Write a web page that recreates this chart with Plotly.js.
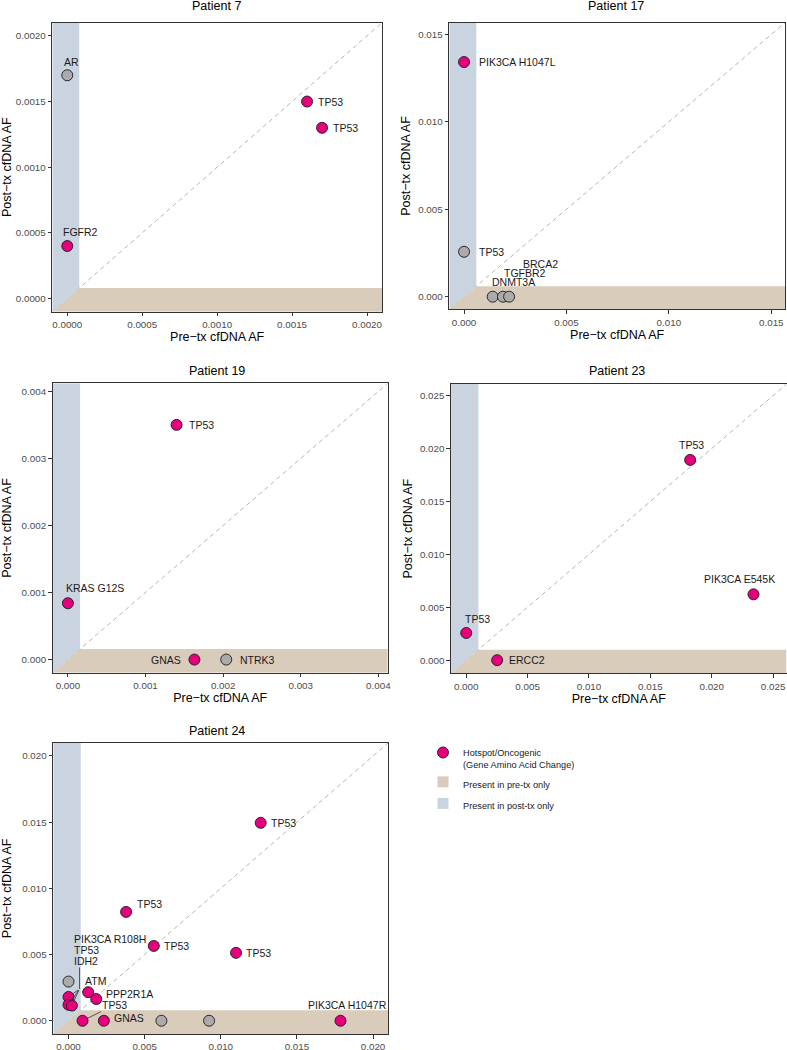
<!DOCTYPE html>
<html>
<head>
<meta charset="utf-8">
<script src="https://cdn.plot.ly/plotly-3.0.1.min.js"></script>
<style>html,body{margin:0;padding:0;background:#fff;}#chart{width:787px;height:1050px;}</style>
</head>
<body>
<div id="chart"></div>
<script>
// ---------------- DATA ----------------
const panelTitles = ['Patient 7', 'Patient 17', 'Patient 19', 'Patient 23', 'Patient 24'];

const p7_gene = ['AR', 'TP53', 'TP53', 'FGFR2'];
const p7_pre  = [0, 0.0016, 0.0017, 0];
const p7_post = [0.0017, 0.0015, 0.0013, 0.0004];
const p7_hot  = [0, 1, 1, 1];

const p17_gene = ['PIK3CA H1047L', 'TP53', 'DNMT3A', 'TGFBR2', 'BRCA2'];
const p17_pre  = [0, 0, 0.0014, 0.0019, 0.0022];
const p17_post = [0.01342, 0.00257, 0, 0, 0];
const p17_hot  = [1, 0, 0, 0, 0];

const p19_gene = ['TP53', 'KRAS G12S', 'GNAS', 'NTRK3'];
const p19_pre  = [0.0014, 0, 0.00163, 0.00204];
const p19_post = [0.0035, 0.00084, 0, 0];
const p19_hot  = [1, 1, 1, 0];

const p23_gene = ['TP53', 'PIK3CA E545K', 'TP53', 'ERCC2'];
const p23_pre  = [0.01824, 0.0234, 0, 0.00252];
const p23_post = [0.01892, 0.00622, 0.00257, 0];
const p23_hot  = [1, 1, 1, 1];

const p24_gene = ['TP53', 'TP53', 'TP53', 'TP53', 'PIK3CA H1047R', '', '', 'GNAS', 'TP53', 'PPP2R1A', 'ATM', '', 'PIK3CA R108H', 'TP53', 'IDH2'];
const p24_pre  = [0.01262, 0.00378, 0.0056, 0.011, 0.01786, 0.0061, 0.00923, 0.00232, 0.00092, 0.00182, 0.00129, 0, 0, 0, 0.00022];
const p24_post = [0.01495, 0.00822, 0.00565, 0.00513, 0, 0, 0, 0, 0, 0.00164, 0.00216, 0.00296, 0.0018, 0.00121, 0.00115];
const p24_hot  = [1, 1, 1, 1, 1, 0, 0, 1, 1, 1, 1, 0, 1, 1, 1];

// axis limits (same on x and y) and "present in one sample only" cut-off
const axisMin = [-0.0001, -0.00072, -0.000196, -0.00124, -0.001];
const axisMax = [0.0021, 0.01567, 0.00412, 0.02609, 0.021];
const onlyCutoff = [0.00008, 0.0006, 0.000157, 0.00099, 0.0008];

const tickVals7  = [0, 0.0005, 0.0010, 0.0015, 0.0020];
const tickText7  = ['0.0000', '0.0005', '0.0010', '0.0015', '0.0020'];
const tickVals17 = [0, 0.005, 0.010, 0.015];
const tickText17 = ['0.000', '0.005', '0.010', '0.015'];
const tickVals19 = [0, 0.001, 0.002, 0.003, 0.004];
const tickText19 = ['0.000', '0.001', '0.002', '0.003', '0.004'];
const tickVals23 = [0, 0.005, 0.010, 0.015, 0.020, 0.025];
const tickText23 = ['0.000', '0.005', '0.010', '0.015', '0.020', '0.025'];
const tickVals24 = [0, 0.005, 0.010, 0.015, 0.020];
const tickText24 = ['0.000', '0.005', '0.010', '0.015', '0.020'];

const legendNames = ['Hotspot/Oncogenic<br>(Gene Amino Acid Change)', 'Present in pre-tx only', 'Present in post-tx only'];
const xTitle = 'Pre\u2212tx cfDNA AF';
const yTitle = 'Post\u2212tx cfDNA AF';

// ---------------- STYLE / LAYOUT ----------------
const W = 787, H = 1050;
const PINK = '#E6007E', GREY = '#ABABAB', BLUE = '#CAD3E0', BROWN = '#D9CCBA';
const FONT = 'Liberation Sans, Arial, Helvetica, sans-serif';

// panel boxes in px: [left, right, top, bottom]
const boxes = [
  [52.3, 382, 22.7, 311.7],
  [449.3, 785, 22.7, 309.3],
  [52.7, 387.7, 383.3, 672.7],
  [451, 786.5, 384, 673.3],
  [53.3, 388.3, 742.7, 1034]
];
const titlePos = [[216, 6], [615.7, 6], [217, 370.5], [616.7, 370.5], [216.7, 731]];
// x-axis title shown only where it falls inside the page (last panel's is below the bottom edge)
const showXTitle = [true, true, true, true, false];
const yTitleStandoff = [2, 4, 7, 4, 7];

const panels = [
  {gene: p7_gene, pre: p7_pre, post: p7_post, hot: p7_hot, tv: tickVals7, tt: tickText7},
  {gene: p17_gene, pre: p17_pre, post: p17_post, hot: p17_hot, tv: tickVals17, tt: tickText17},
  {gene: p19_gene, pre: p19_pre, post: p19_post, hot: p19_hot, tv: tickVals19, tt: tickText19},
  {gene: p23_gene, pre: p23_pre, post: p23_post, hot: p23_hot, tv: tickVals23, tt: tickText23},
  {gene: p24_gene, pre: p24_pre, post: p24_post, hot: p24_hot, tv: tickVals24, tt: tickText24}
];

// label placement (pixel shifts, anchor) for each point, per panel
const labelPlace = [
  [[4, 13.7, 'center'], [9, 0, 'left'], [9, 0, 'left'], [13.3, 14.3, 'center']],
  [[12.7, 0, 'left'], [13, 0, 'left'], [21, 15, 'center'], [22.5, 23.7, 'center'], [31, 32.7, 'center']],
  [[10, 0, 'left'], [-4, 15, 'left'], [-11.6, 0, 'right'], [11.3, 0, 'left']],
  [[1, 15, 'center'], [-14.2, 15.3, 'center'], [11.7, 13.7, 'center'], [9.4, 0, 'left']],
  [[8, 0, 'left'], [9, 8, 'left'], [8.6, 0, 'left'], [8, 0, 'left'], [6.6, 16, 'center'], null, null,
   [8, 2.7, 'left'], 'leaderTP53', [7.7, 5, 'left'], [7.8, 11, 'center'], null, 'block', 'blockpart', 'blockpart']
];

const traces = [];
const shapes = [];
const annotations = [];
const layout = {
  width: W, height: H,
  margin: {l: 0, r: 0, t: 0, b: 0},
  paper_bgcolor: '#ffffff', plot_bgcolor: '#ffffff',
  font: {family: FONT, color: '#000000'},
  showlegend: true,
  legend: {
    x: 423 / W, y: 1 - 740 / H, xanchor: 'left', yanchor: 'top',
    font: {family: FONT, size: 9.2, color: '#1a1a1a'},
    bgcolor: 'rgba(0,0,0,0)', borderwidth: 0,
    traceorder: 'grouped', tracegroupgap: 2.5, valign: 'top', itemclick: false
  }
};

panels.forEach((p, i) => {
  const n = i + 1;
  const xa = 'xaxis' + (n === 1 ? '' : n), ya = 'yaxis' + (n === 1 ? '' : n);
  const xr = 'x' + (n === 1 ? '' : n), yr = 'y' + (n === 1 ? '' : n);
  const b = boxes[i];
  const lo = axisMin[i], hi = axisMax[i], c = onlyCutoff[i];
  const common = {
    range: [lo, hi], showgrid: false, zeroline: false,
    showline: true, mirror: true, linecolor: '#333333', linewidth: 1.1,
    ticks: 'outside', ticklen: 3.5, tickwidth: 1, tickcolor: '#333333',
    tickvals: p.tv, ticktext: p.tt,
    tickfont: {family: FONT, size: 9.8, color: '#4D4D4D'},
    fixedrange: true
  };
  layout[xa] = Object.assign({}, common, {
    domain: [b[0] / W, b[1] / W], anchor: yr,
    title: {text: showXTitle[i] ? xTitle : '', font: {family: FONT, size: 12.5, color: '#000'}, standoff: 2}
  });
  layout[ya] = Object.assign({}, common, {
    domain: [1 - b[3] / H, 1 - b[2] / H], anchor: xr,
    title: {text: yTitle, font: {family: FONT, size: 12.5, color: '#000'}, standoff: yTitleStandoff[i]}
  });

  // diagonal reference line
  shapes.push({type: 'line', xref: xr, yref: yr, x0: lo, y0: lo, x1: hi, y1: hi, layer: 'below',
    line: {color: '#B5B5B5', width: 1, dash: '4.5px,3.5px'}});
  // post-tx only region (upper-left strip)
  shapes.push({type: 'path', xref: xr, yref: yr, layer: 'below', fillcolor: BLUE, line: {width: 0},
    path: `M${lo},${lo} L${lo},${hi} L${c},${hi} L${c},${c} Z`});
  // pre-tx only region (bottom strip)
  shapes.push({type: 'path', xref: xr, yref: yr, layer: 'below', fillcolor: BROWN, line: {width: 0},
    path: `M${lo},${lo} L${c},${c} L${hi},${c} L${hi},${lo} Z`});

  // points: grey first, pink on top
  [0, 1].forEach(h => {
    const xs = [], ys = [];
    p.hot.forEach((v, k) => { if (v === h) { xs.push(p.pre[k]); ys.push(p.post[k]); } });
    traces.push({
      type: 'scatter', mode: 'markers', x: xs, y: ys, xaxis: xr, yaxis: yr,
      showlegend: false, hoverinfo: 'skip', cliponaxis: false,
      marker: {size: 11, color: h ? PINK : GREY, line: {color: '#1a1a1a', width: 0.9}}
    });
  });

  // panel title
  annotations.push({xref: 'paper', yref: 'paper', x: titlePos[i][0] / W, y: 1 - titlePos[i][1] / H,
    xanchor: 'center', yanchor: 'middle', showarrow: false, text: panelTitles[i],
    font: {family: FONT, size: 12.5, color: '#000'}});

  // gene labels
  const lf = {family: FONT, size: 10.5, color: '#1a1a1a'};
  p.gene.forEach((g, k) => {
    const pl = labelPlace[i][k];
    if (!g || !pl) return;
    if (pl === 'leaderTP53') {
      annotations.push({xref: xr, yref: yr, x: p.pre[k], y: p.post[k], text: g, font: lf,
        showarrow: true, arrowhead: 0, arrowwidth: 0.8, arrowcolor: '#333', standoff: 5,
        ax: 32.4, ay: -16});
      return;
    }
    if (pl === 'blockpart') {
      annotations.push({xref: xr, yref: yr, x: p.pre[k], y: p.post[k], text: '',
        showarrow: true, arrowhead: 0, arrowwidth: 0.8, arrowcolor: '#333', standoff: 4,
        ax: 79.3 - (68.3 + (p.pre[k]) * 15250), ay: 990 - (1022 - p.post[k] * 13267)});
      return;
    }
    if (pl === 'block') {
      const blockGenes = p.gene.filter((gg, kk) => labelPlace[i][kk] === 'block' || labelPlace[i][kk] === 'blockpart');
      const lineShift = [58.1, 47.1, 36.4];
      blockGenes.forEach((bg, bi) => {
        annotations.push({xref: xr, yref: yr, x: p.pre[k], y: p.post[k], text: bg, font: lf,
          xanchor: 'left', yanchor: 'middle', showarrow: false, xshift: 3.4, yshift: lineShift[bi]});
      });
      annotations.push({xref: xr, yref: yr, x: p.pre[k], y: p.post[k], text: '',
        showarrow: true, arrowhead: 0, arrowwidth: 0.8, arrowcolor: '#333', standoff: 4,
        ax: 79.3 - (68.3 + (p.pre[k]) * 15250), ay: 990 - (1022 - p.post[k] * 13267)});
      annotations.push({xref: xr, yref: yr, x: p.pre[k], y: p.post[k], text: '',
        showarrow: true, arrowhead: 0, arrowwidth: 0.8, arrowcolor: '#333', standoff: 0,
        xshift: 11, yshift: 8, ax: 0, ay: -23});
      return;
    }
    annotations.push({xref: xr, yref: yr, x: p.pre[k], y: p.post[k], text: g, font: lf,
      showarrow: false, xanchor: pl[2], yanchor: 'middle', xshift: pl[0], yshift: pl[1]});
  });
});

// legend-only entries
traces.push({type: 'scatter', mode: 'markers', x: [null], y: [null], name: legendNames[0], legendgroup: 'a',
  marker: {size: 11, color: PINK, line: {color: '#1a1a1a', width: 0.9}}, hoverinfo: 'skip'});
traces.push({type: 'scatter', mode: 'markers', x: [null], y: [null], name: legendNames[1], legendgroup: 'b',
  marker: {size: 11, symbol: 'square', color: BROWN, line: {width: 0}}, hoverinfo: 'skip'});
traces.push({type: 'scatter', mode: 'markers', x: [null], y: [null], name: legendNames[2], legendgroup: 'c',
  marker: {size: 11, symbol: 'square', color: BLUE, line: {width: 0}}, hoverinfo: 'skip'});

layout.shapes = shapes;
layout.annotations = annotations;

Plotly.newPlot('chart', traces, layout, {displayModeBar: false, staticPlot: true});
</script>
</body>
</html>
